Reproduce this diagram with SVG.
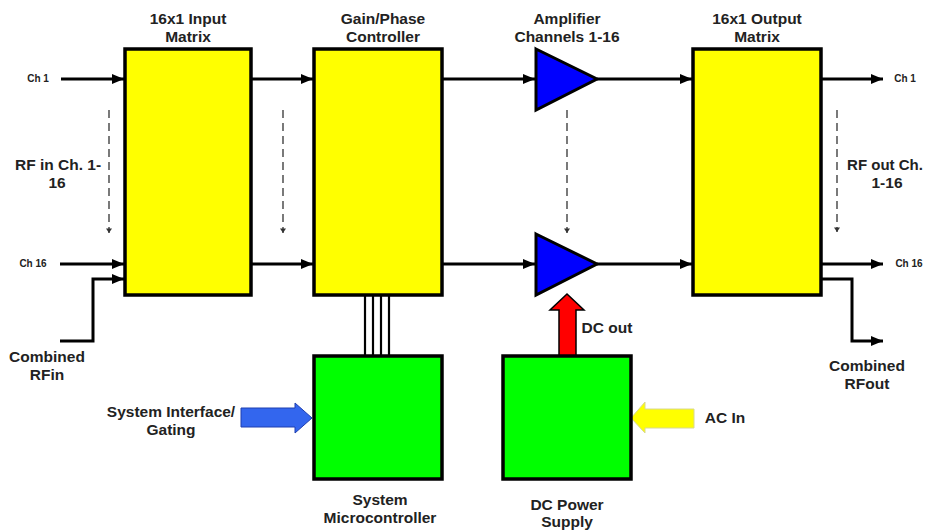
<svg xmlns="http://www.w3.org/2000/svg" width="926" height="531" viewBox="0 0 926 531">
<defs>
<style>
text{font-family:"Liberation Sans",Arial,sans-serif;font-weight:bold;fill:#222;text-anchor:middle}
.t{font-size:15.5px}
.s{font-size:10px}
.box{stroke:#000;stroke-width:3.5}
.y{fill:#ffff00}
.g{fill:#00ff00}
.w{fill:none;stroke:#000;stroke-width:3}
.d{fill:none;stroke:#333;stroke-width:1.3;stroke-dasharray:8 5}
</style>
<marker id="ah" viewBox="0 0 12 10" refX="12" refY="5" markerWidth="12" markerHeight="10" markerUnits="userSpaceOnUse" orient="auto"><path d="M0,0 L12,5 L0,10 z" fill="#000"/></marker>
<marker id="sh" viewBox="0 0 6 8" refX="6" refY="4" markerWidth="8" markerHeight="6" markerUnits="userSpaceOnUse" orient="auto"><path d="M0,0 L6,4 L0,8 z" fill="#333"/></marker>
</defs>
<rect width="926" height="531" fill="#fff"/>
<g id="connectors">
<line class="w" x1="61" y1="79" x2="124" y2="79" marker-end="url(#ah)"/>
<line class="w" x1="60" y1="264" x2="124" y2="264" marker-end="url(#ah)"/>
<polyline class="w" points="60,341 93,341 93,279 124,279" marker-end="url(#ah)"/>
<line class="w" x1="251" y1="79" x2="313" y2="79" marker-end="url(#ah)"/>
<line class="w" x1="251" y1="264" x2="313" y2="264" marker-end="url(#ah)"/>
<line class="w" x1="442" y1="79" x2="535" y2="79" marker-end="url(#ah)"/>
<line class="w" x1="442" y1="264" x2="535" y2="264" marker-end="url(#ah)"/>
<line class="w" x1="597" y1="79" x2="692" y2="79" marker-end="url(#ah)"/>
<line class="w" x1="597" y1="264" x2="692" y2="264" marker-end="url(#ah)"/>
<line class="w" x1="821" y1="79" x2="883" y2="79" marker-end="url(#ah)"/>
<line class="w" x1="821" y1="264" x2="883" y2="264" marker-end="url(#ah)"/>
<polyline class="w" points="821,279 852,279 852,341 883,341" marker-end="url(#ah)"/>
<line class="d" x1="109" y1="110" x2="109" y2="233" marker-end="url(#sh)"/>
<line class="d" x1="283" y1="110" x2="283" y2="233" marker-end="url(#sh)"/>
<line class="d" x1="567" y1="110" x2="567" y2="233" marker-end="url(#sh)"/>
<line class="d" x1="837" y1="110" x2="837" y2="232" marker-end="url(#sh)"/>
<g stroke="#000" stroke-width="2.2">
<line x1="365" y1="295" x2="365" y2="356"/>
<line x1="373" y1="295" x2="373" y2="356"/>
<line x1="381" y1="295" x2="381" y2="356"/>
<line x1="389" y1="295" x2="389" y2="356"/>
</g>
<path d="M559,356 L559,310 L550,310 L567,294 L584,310 L576,310 L576,356 z" fill="#ff0000" stroke="#000" stroke-width="1.5"/>
<path d="M241,408 L295,408 L295,403 L312,418 L295,433 L295,427 L241,427 z" fill="#3366ee" stroke="#1f3fb0" stroke-width="1"/>
<path d="M694,409 L645,409 L645,402 L631,418 L645,433 L645,428 L694,428 z" fill="#ffff00" stroke="#d8d890" stroke-width="1"/>
</g>
<g id="input-matrix">
<rect class="box y" x="125" y="49" width="126" height="246"/>
<text class="t" x="188" y="24">16x1 Input</text>
<text class="t" x="188" y="42">Matrix</text>
</g>
<g id="gain-phase">
<rect class="box y" x="314" y="49" width="128" height="246"/>
<text class="t" x="383" y="24">Gain/Phase</text>
<text class="t" x="383" y="42">Controller</text>
</g>
<g id="amp1">
<path d="M536,49 L597,79 L536,110 z" fill="#0000ff" stroke="#000" stroke-width="3" stroke-linejoin="miter"/>
<text class="t" x="567" y="24">Amplifier</text>
<text class="t" x="567" y="42">Channels 1-16</text>
</g>
<g id="amp16">
<path d="M536,234 L597,264 L536,295 z" fill="#0000ff" stroke="#000" stroke-width="3"/>
</g>
<g id="output-matrix">
<rect class="box y" x="693" y="49" width="128" height="246"/>
<text class="t" x="757" y="24">16x1 Output</text>
<text class="t" x="757" y="42">Matrix</text>
</g>
<g id="microcontroller">
<rect class="box g" x="314" y="356" width="128" height="123"/>
<text class="t" x="380" y="505">System</text>
<text class="t" x="380" y="523">Microcontroller</text>
</g>
<g id="power-supply">
<rect class="box g" x="503" y="356" width="128" height="123"/>
<text class="t" x="567" y="510">DC Power</text>
<text class="t" x="567" y="527">Supply</text>
</g>
<g id="labels">
<text class="s" x="38" y="82">Ch 1</text>
<text class="s" x="33" y="267">Ch 16</text>
<text class="t" x="47" y="362">Combined</text>
<text class="t" x="47" y="380">RFin</text>
<text class="t" x="58" y="170">RF in Ch. 1-</text>
<text class="t" x="57" y="188">16</text>
<text class="s" x="905" y="82">Ch 1</text>
<text class="s" x="909" y="267">Ch 16</text>
<text class="t" x="867" y="371">Combined</text>
<text class="t" x="867" y="389">RFout</text>
<text class="t" x="885" y="170" style="font-size:15px">RF out Ch.</text>
<text class="t" x="887" y="188">1-16</text>
<text class="t" x="607" y="333">DC out</text>
<text class="t" x="725" y="423">AC In</text>
<text class="t" x="171" y="417">System Interface/</text>
<text class="t" x="171" y="435">Gating</text>
</g>
</svg>
